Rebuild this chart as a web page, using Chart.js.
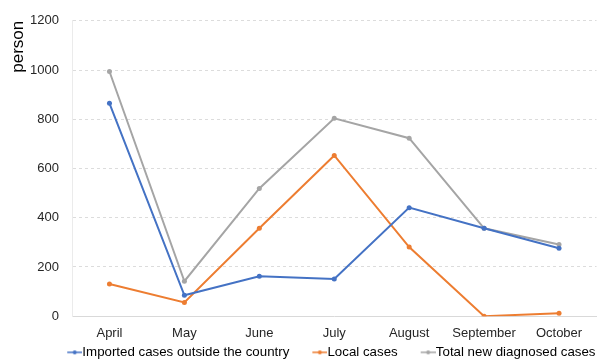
<!DOCTYPE html>
<html>
<head>
<meta charset="utf-8">
<script src="https://cdn.jsdelivr.net/npm/chart.js@4/dist/chart.umd.min.js"></script>
<style>
  html, body { margin: 0; padding: 0; background: #fff; }
  #wrap { width: 599px; height: 361px; position: relative; }
</style>
</head>
<body>
<div id="wrap"><canvas id="chart"></canvas></div>
<script>
// data
const months = ['April', 'May', 'June', 'July', 'August', 'September', 'October'];
const imported = [865, 85, 162, 151, 441, 357, 276];
const local = [131, 56, 357, 653, 281, 0, 12];
const total = [994, 142, 519, 804, 723, 357, 291];
const yTicks = [0, 200, 400, 600, 800, 1000, 1200];

const BLUE = '#4472C4';
const ORANGE = '#ED7D31';
const GRAY = '#A5A5A5';
const TEXT = '#262626';
const FONT = 'Arial, "Liberation Sans", sans-serif';

// legend symbol: a short line with a dot, drawn at the right end of the image
// so that it sits right before the label text
function legendMark(color) {
  const c = document.createElement('canvas');
  c.width = 41; c.height = 6;
  const g = c.getContext('2d');
  g.strokeStyle = color;
  g.lineWidth = 1.5;
  g.beginPath(); g.moveTo(26, 3); g.lineTo(41, 3); g.stroke();
  g.fillStyle = color;
  g.beginPath(); g.arc(33.5, 3, 2, 0, Math.PI * 2); g.fill();
  return c;
}

function series(label, data, color) {
  return {
    label, data,
    borderColor: color,
    backgroundColor: color,
    borderWidth: 2,
    pointRadius: 2.5,
    pointHoverRadius: 2.5,
    pointBorderWidth: 0,
    tension: 0,
    fill: false,
    mark: legendMark(color),
  };
}

const ctx = document.getElementById('chart').getContext('2d');
new Chart(ctx, {
  type: 'line',
  data: {
    labels: months,
    datasets: [
      series('Imported cases outside the country', imported, BLUE),
      series('Local cases', local, ORANGE),
      series('Total new diagnosed cases', total, GRAY),
    ],
  },
  options: {
    responsive: true,
    maintainAspectRatio: false,
    animation: false,
    layout: { padding: { top: 19, right: 0, bottom: -8, left: 0 } },
    scales: {
      x: {
        offset: true,
        afterFit: (axis) => { axis.height = 26; },
        grid: { display: false, drawTicks: false },
        border: { display: true, color: '#d9d9d9', width: 1 },
        ticks: { color: TEXT, font: { family: FONT, size: 13 }, padding: 9, maxRotation: 0, autoSkip: false },
      },
      y: {
        min: 0,
        max: 1200,
        afterBuildTicks: (axis) => { axis.ticks = yTicks.map(v => ({ value: v })); },
        afterFit: (axis) => { axis.width = 72; },
        grid: { color: '#dcdcdc', drawTicks: false },
        border: { display: true, color: '#ebebeb', dash: [3, 3] },
        ticks: {
          color: TEXT,
          font: { family: FONT, size: 13 },
          padding: 13,
          callback: (v) => String(v),
        },
        title: {
          display: true,
          text: 'person',
          align: 'end',
          color: '#000',
          font: { family: FONT, size: 17 },
          padding: { top: 8, bottom: 0 },
        },
      },
    },
    plugins: {
      legend: {
        position: 'bottom',
        align: 'end',
        labels: {
          color: TEXT,
          font: { family: FONT, size: 13.3 },
          usePointStyle: true,
          pointStyleWidth: 28,
          boxHeight: 6,
          padding: 3.5,
          generateLabels: (chart) => chart.data.datasets.map((ds, i) => ({
            text: ds.label,
            fillStyle: ds.borderColor,
            strokeStyle: ds.borderColor,
            lineWidth: 0,
            pointStyle: ds.mark,
            hidden: !chart.isDatasetVisible(i),
            datasetIndex: i,
          })),
        },
      },
      tooltip: { enabled: false },
    },
  },
});
</script>
</body>
</html>
